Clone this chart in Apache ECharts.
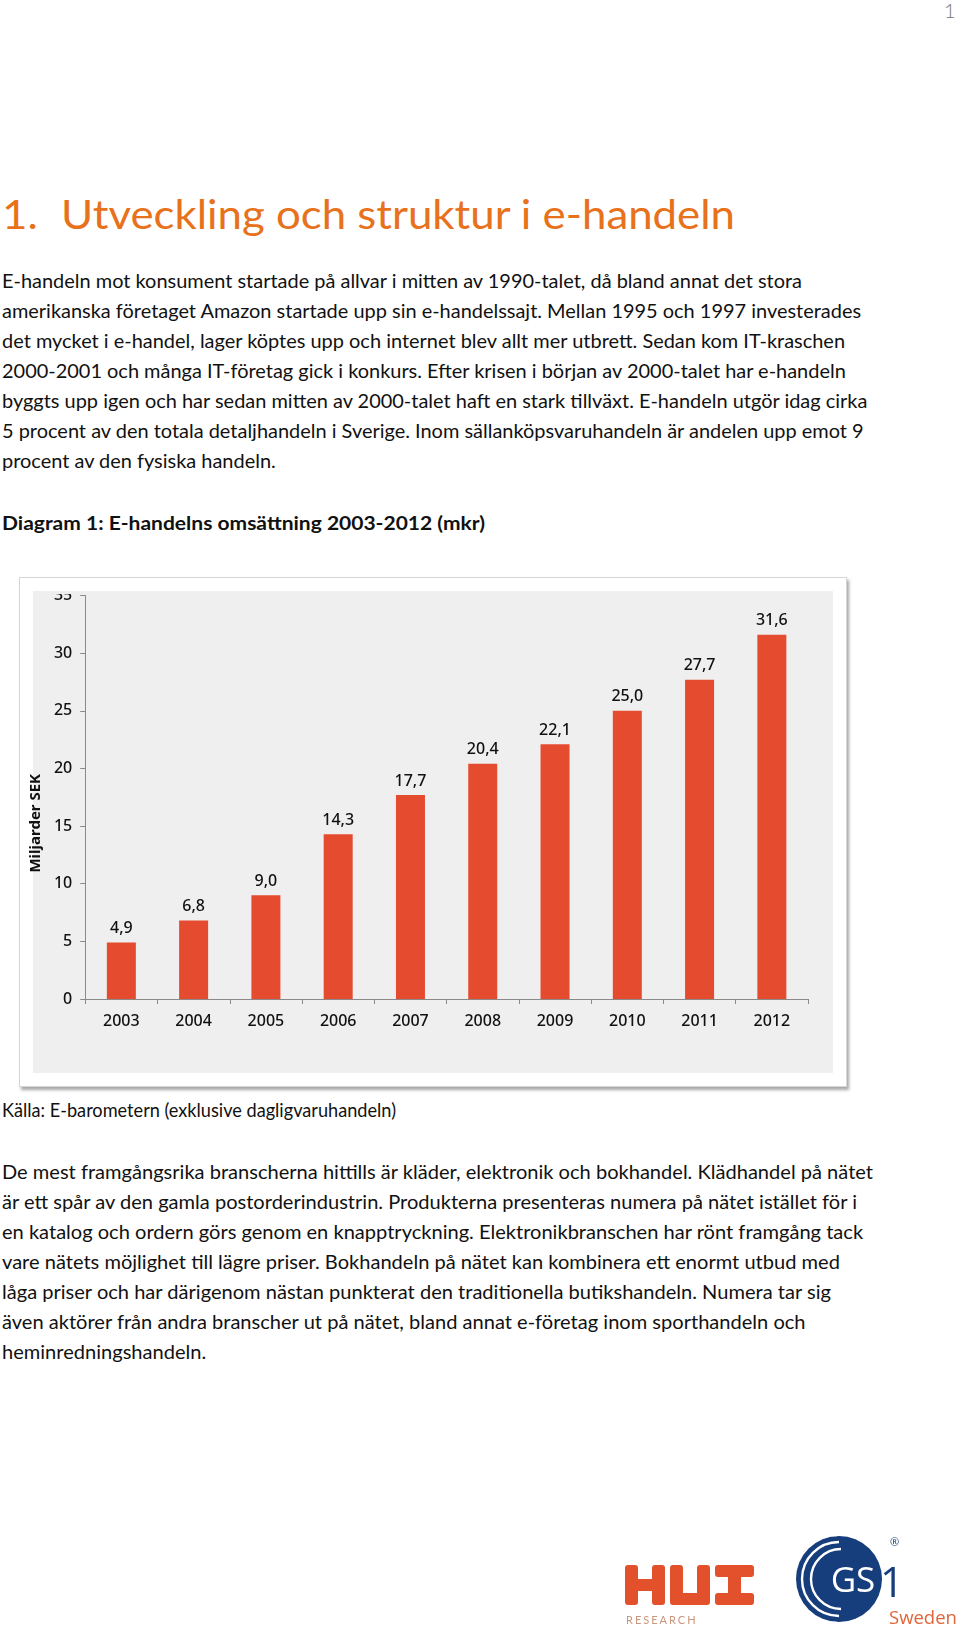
<!DOCTYPE html>
<html>
<head>
<meta charset="utf-8">
<script src="https://cdn.jsdelivr.net/npm/echarts@6/dist/echarts.min.js"></script>
<style>
html,body{margin:0;padding:0;background:#fff;}
#page{position:relative;width:960px;height:1628px;overflow:hidden;font-family:'Lato','Open Sans',sans-serif;color:#111;}
.ln{position:absolute;left:2px;white-space:nowrap;font-size:19px;line-height:30px;transform-origin:0 50%;}
.h{font-weight:bold;}
#title1,#title2{position:absolute;white-space:nowrap;font-size:41px;line-height:50px;color:#E8711C;top:189px;transform-origin:0 50%;}
#title1{left:2px;}
#title2{left:61px;}
#pnum{position:absolute;left:944px;top:-2px;font-size:20px;color:#777;font-weight:300;}
#frame{position:absolute;left:19px;top:577px;width:828px;height:510px;background:#fff;border:1px solid #d6d6d6;box-sizing:border-box;box-shadow:2px 3px 3px rgba(0,0,0,0.35);}
#chart{position:absolute;left:0;top:0;width:826px;height:508px;}
#logos{position:absolute;left:0;top:0;width:960px;height:1628px;pointer-events:none;}
</style>
</head>
<body>
<div id="page">
  <div id="pnum">1</div>
  <div id="title1">1.</div>
  <div id="title2">Utveckling och struktur i e-handeln</div>

  <div class="ln p1" style="top:266px">E-handeln mot konsument startade på allvar i mitten av 1990-talet, då bland annat det stora</div>
  <div class="ln p1" style="top:296px">amerikanska företaget Amazon startade upp sin e-handelssajt. Mellan 1995 och 1997 investerades</div>
  <div class="ln p1" style="top:326px">det mycket i e-handel, lager köptes upp och internet blev allt mer utbrett. Sedan kom IT-kraschen</div>
  <div class="ln p1" style="top:356px">2000-2001 och många IT-företag gick i konkurs. Efter krisen i början av 2000-talet har e-handeln</div>
  <div class="ln p1" style="top:386px">byggts upp igen och har sedan mitten av 2000-talet haft en stark tillväxt. E-handeln utgör idag cirka</div>
  <div class="ln p1" style="top:416px">5 procent av den totala detaljhandeln i Sverige. Inom sällanköpsvaruhandeln är andelen upp emot 9</div>
  <div class="ln p1" style="top:446px">procent av den fysiska handeln.</div>

  <div class="ln h" id="diag" style="top:508px">Diagram 1: E-handelns omsättning 2003-2012 (mkr)</div>

  <div id="frame"><div id="chart"></div></div>

  <div class="ln" id="kalla" style="top:1095px">Källa: E-barometern (exklusive dagligvaruhandeln)</div>

  <div class="ln p2" style="top:1157px">De mest framgångsrika branscherna hittills är kläder, elektronik och bokhandel. Klädhandel på nätet</div>
  <div class="ln p2" style="top:1187px">är ett spår av den gamla postorderindustrin. Produkterna presenteras numera på nätet istället för i</div>
  <div class="ln p2" style="top:1217px">en katalog och ordern görs genom en knapptryckning. Elektronikbranschen har rönt framgång tack</div>
  <div class="ln p2" style="top:1247px">vare nätets möjlighet till lägre priser. Bokhandeln på nätet kan kombinera ett enormt utbud med</div>
  <div class="ln p2" style="top:1277px">låga priser och har därigenom nästan punkterat den traditionella butikshandeln. Numera tar sig</div>
  <div class="ln p2" style="top:1307px">även aktörer från andra branscher ut på nätet, bland annat e-företag inom sporthandeln och</div>
  <div class="ln p2" style="top:1337px">heminredningshandeln.</div>

  <svg id="logos" viewBox="0 0 960 1628" xmlns="http://www.w3.org/2000/svg">
    <g fill="#E2502C">
      <rect x="625" y="1565" width="13" height="40" rx="3"/>
      <rect x="652" y="1565" width="13" height="40" rx="3"/>
      <rect x="625" y="1579" width="40" height="12"/>
      <rect x="670" y="1565" width="13" height="40" rx="3"/>
      <rect x="697" y="1565" width="13" height="40" rx="3"/>
      <rect x="670" y="1593" width="40" height="12" rx="5"/>
      <rect x="715" y="1565" width="39" height="12" rx="3"/>
      <rect x="728" y="1565" width="13" height="40"/>
      <rect x="715" y="1593" width="39" height="12" rx="3"/>
    </g>
    <text x="626" y="1624" font-family="Lato, sans-serif" font-size="11" letter-spacing="2" fill="#C9957D">RESEARCH</text>
    <defs><clipPath id="gc"><circle cx="839" cy="1579" r="43"/></clipPath></defs>
    <circle cx="839" cy="1579" r="43" fill="#173E7C"/>
    <g clip-path="url(#gc)" fill="none" stroke="#fff" stroke-width="2.4">
      <path d="M 841 1549 A 30 30 0 0 0 841 1609"/>
      <path d="M 839 1542 A 37 37 0 0 0 839 1616"/>
      <path d="M 837 1535 A 44 44 0 0 0 837 1623"/>
      <path d="M 835 1528 A 51 51 0 0 0 835 1630"/>
    </g>
    <text x="853" y="1592" text-anchor="middle" font-family="'Open Sans', sans-serif" font-size="35" fill="#fff">GS</text>
    <text x="880" y="1597" font-family="'Open Sans', sans-serif" font-size="42" fill="#173E7C">1</text>
    <text x="890" y="1546" font-family="'Open Sans', sans-serif" font-size="11" fill="#173E7C">®</text>
    <text x="889" y="1624" font-family="'Open Sans', sans-serif" font-size="18.5" fill="#E0663A">Sweden</text>
  </svg>
</div>

<script>
// ---- data ----
const years = ['2003', '2004', '2005', '2006', '2007', '2008', '2009', '2010', '2011', '2012'];
const omsattning = [4.9, 6.8, 9.0, 14.3, 17.7, 20.4, 22.1, 25.0, 27.7, 31.6];
const yAxisMin = 0;
const yAxisMax = 35;
const yAxisInterval = 5;
const yAxisTitle = 'Miljarder SEK';

// ---- fit text widths to reference ----
function fit(els, target) {
  const w = els[0].getBoundingClientRect().width;
  const s = target / w;
  els.forEach(e => { e.style.transform = 'scaleX(' + s + ')'; });
}
fit(Array.from(document.querySelectorAll('.p1')), 800);
fit(Array.from(document.querySelectorAll('.p2')), 871);
fit([document.getElementById('diag')], 483);
fit([document.getElementById('kalla')], 394);
const t2 = document.getElementById('title2');
const t1 = document.getElementById('title1');
const tw = t2.getBoundingClientRect().width;
const ts = 674 / tw;
t2.style.transform = 'scaleX(' + ts + ')';
t1.style.transform = 'scaleX(' + ts + ')';

// ---- chart ----
const chart = echarts.init(document.getElementById('chart'), null, { renderer: 'canvas' });
const axisColor = '#8a8a8a';
const textColor = '#111111';
const fontFam = "'Noto Sans', 'Open Sans', sans-serif";
const labelWeight = 500;
chart.setOption({
  animation: false,
  backgroundColor: '#ffffff',
  graphic: [
    { type: 'rect', z: -10, silent: true, shape: { x: 13, y: 13, width: 800, height: 482 }, style: { fill: '#efefef' } },
    { type: 'rect', z: 100, silent: true, shape: { x: 0, y: 0, width: 826, height: 13 }, style: { fill: '#ffffff' } },
    { type: 'rect', z: 100, silent: true, shape: { x: 13, y: 13, width: 48, height: 3 }, style: { fill: '#efefef' } }
  ],
  grid: { left: 64, top: 17.5, right: 38, bottom: 87, containLabel: false },
  xAxis: {
    type: 'category',
    data: years,
    boundaryGap: true,
    axisLine: { show: true, lineStyle: { color: axisColor, width: 1 } },
    axisTick: { show: true, length: 5, alignWithLabel: false, lineStyle: { color: axisColor } },
    axisLabel: { color: textColor, fontSize: 16, fontWeight: labelWeight, fontFamily: fontFam, margin: 14 }
  },
  yAxis: {
    type: 'value',
    min: yAxisMin,
    max: yAxisMax,
    interval: yAxisInterval,
    name: yAxisTitle,
    nameLocation: 'middle',
    nameGap: 34,
    nameRotate: 90,
    nameTextStyle: { color: textColor, fontSize: 15, fontWeight: 'bold', fontFamily: fontFam, padding: [0, 52, 0, 0] },
    axisLine: { show: true, lineStyle: { color: axisColor, width: 1 } },
    axisTick: { show: true, length: 5, lineStyle: { color: axisColor } },
    splitLine: { show: false },
    axisLabel: { color: textColor, fontSize: 16, fontWeight: labelWeight, fontFamily: fontFam, margin: 13 }
  },
  series: [{
    type: 'bar',
    data: omsattning,
    barWidth: 29,
    itemStyle: { color: '#E54B2F' },
    label: {
      show: true,
      position: 'top',
      distance: 6,
      color: textColor,
      fontSize: 16,
      fontWeight: labelWeight,
      fontFamily: fontFam,
      formatter: p => p.value.toFixed(1).replace('.', ',')
    }
  }]
});
</script>
</body>
</html>
